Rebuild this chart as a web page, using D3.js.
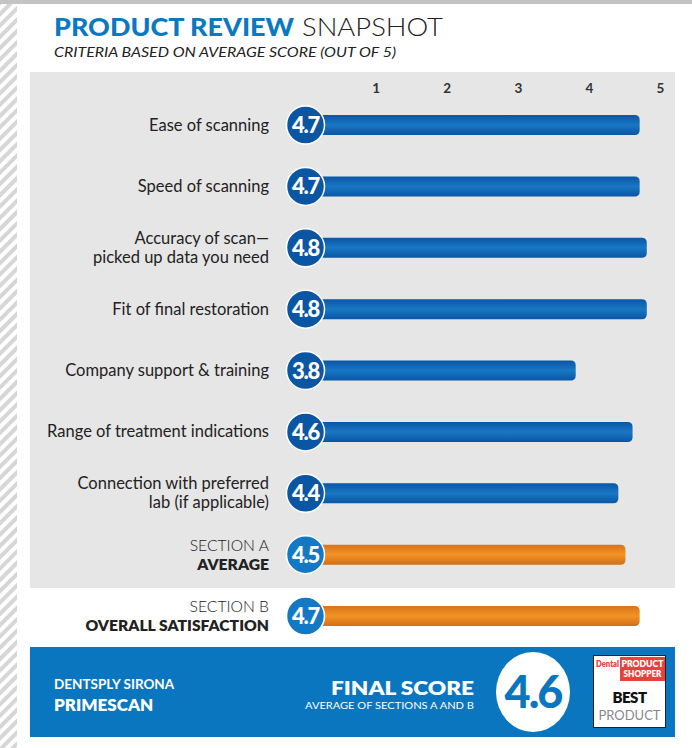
<!DOCTYPE html>
<html><head><meta charset="utf-8">
<script src="https://cdn.jsdelivr.net/npm/d3@7"></script>
<style>body{margin:0;background:#fff}svg{display:block}</style>
</head><body><div id="chart"></div>
<script>
const categories = [
  ["Ease of scanning"],
  ["Speed of scanning"],
  ["Accuracy of scan\u2014","picked up data you need"],
  ["Fit of final restoration"],
  ["Company support & training"],
  ["Range of treatment indications"],
  ["Connection with preferred","lab (if applicable)"]
];
const values = [4.7, 4.7, 4.8, 4.8, 3.8, 4.6, 4.4];
const sectionLabels = [["SECTION A","AVERAGE"],["SECTION B","OVERALL SATISFACTION"]];
const sectionValues = [4.5, 4.7];
const tickValues = [1,2,3,4,5];
const finalScore = 4.6;
const company = "DENTSPLY SIRONA";
const product = "PRIMESCAN";

const W = 692, H = 748;
const FONT = "Lato, 'Open Sans', sans-serif";
const svg = d3.select("#chart").append("svg").attr("width", W).attr("height", H);
const defs = svg.append("defs");

const pat = defs.append("pattern").attr("id","hatch").attr("patternUnits","userSpaceOnUse")
  .attr("width",8).attr("height",8).attr("patternTransform","rotate(45)");
pat.append("rect").attr("width",8).attr("height",8).attr("fill","#ffffff");
pat.append("rect").attr("width",4).attr("height",8).attr("fill","#d6d6d6");

const gBlue = defs.append("linearGradient").attr("id","gBlue").attr("x1",0).attr("x2",0).attr("y1",0).attr("y2",1);
gBlue.append("stop").attr("offset","0%").attr("stop-color","#0a56a4");
gBlue.append("stop").attr("offset","50%").attr("stop-color","#1877c4");
gBlue.append("stop").attr("offset","100%").attr("stop-color","#0a56a4");
const gOr = defs.append("linearGradient").attr("id","gOr").attr("x1",0).attr("x2",0).attr("y1",0).attr("y2",1);
gOr.append("stop").attr("offset","0%").attr("stop-color","#d8731a");
gOr.append("stop").attr("offset","50%").attr("stop-color","#f39325");
gOr.append("stop").attr("offset","100%").attr("stop-color","#d26e16");

svg.append("rect").attr("x",0).attr("y",0).attr("width",W).attr("height",4).attr("fill","#c4c4c4");
svg.append("rect").attr("x",0).attr("y",4).attr("width",17).attr("height",H-4).attr("fill","url(#hatch)");

svg.append("text").attr("x",54).attr("y",36).attr("font-family",FONT)
  .attr("font-weight",900).attr("font-size",25).attr("fill","#0a79c2")
  .attr("textLength",240).attr("lengthAdjust","spacingAndGlyphs").text("PRODUCT REVIEW");
svg.append("text").attr("x",302).attr("y",36).attr("font-family",FONT)
  .attr("font-weight",300).attr("font-size",25).attr("fill","#222")
  .attr("textLength",141).attr("lengthAdjust","spacingAndGlyphs").text("SNAPSHOT");
svg.append("text").attr("x",54).attr("y",57).attr("font-family",FONT)
  .attr("font-style","italic").attr("font-size",13).attr("fill","#222")
  .attr("textLength",342).attr("lengthAdjust","spacingAndGlyphs").text("CRITERIA BASED ON AVERAGE SCORE (OUT OF 5)");

svg.append("rect").attr("x",30).attr("y",72).attr("width",645).attr("height",516).attr("fill","#e6e6e6");

const x = d3.scaleLinear().domain([0,5]).range([305.5, 661]);
const allLabels = categories.concat(sectionLabels);
const allValues = values.concat(sectionValues);
const y = d3.scalePoint().domain(d3.range(allValues.length)).range([125, 616]);

const axis = d3.axisTop(x).tickValues(tickValues).tickSize(0).tickPadding(0).tickFormat(d3.format("d"));
const ag = svg.append("g").attr("transform","translate(-1,93)").call(axis);
ag.select(".domain").remove();
ag.selectAll("text").attr("font-family",FONT).attr("font-weight",700)
  .attr("font-size",13.5).attr("fill","#333");

const rows = svg.append("g").selectAll("g").data(allValues).join("g")
  .attr("transform",(d,i)=>`translate(0,${y(i)})`);

const barH = 20;
rows.append("path").attr("d", d => {
  const x0 = x(0), x1 = x(d), r = 5, h = barH/2;
  return `M${x0},${-h}H${x1-r}Q${x1},${-h} ${x1},${-h+r}V${h-r}Q${x1},${h} ${x1-r},${h}H${x0}Z`;
}).attr("fill",(d,i)=> i < values.length ? "url(#gBlue)" : "url(#gOr)");

rows.append("circle").attr("cx",x(0)).attr("cy",0).attr("r",19)
  .attr("fill",(d,i)=> i < values.length ? "#0b56a3" : "#1479c4")
  .attr("stroke","#ffffff").attr("stroke-width",1.5);
rows.append("text").attr("x",x(0)).attr("y",8).attr("text-anchor","middle")
  .attr("font-family",FONT).attr("font-weight",900).attr("font-size",22)
  .attr("fill","#fff").attr("letter-spacing",-1.2).text(d=>d.toFixed(1));

rows.each(function(d,i){
  const lines = allLabels[i];
  const g = d3.select(this);
  const isSec = i >= values.length;
  const lh = 19;
  const start = -(lines.length-1)*lh/2 + 5.5;
  lines.forEach((t,k)=>{
    g.append("text").attr("x",269).attr("y",start + k*lh).attr("text-anchor","end")
      .attr("font-family",FONT)
      .attr("font-size",isSec?15.7:16.5)
      .attr("font-weight", isSec ? (k===1?800:300) : 400)
      .attr("fill","#222").text(t);
  });
});

svg.append("rect").attr("x",30).attr("y",647).attr("width",645).attr("height",90).attr("fill","#0a76bf");
svg.append("text").attr("x",54).attr("y",689).attr("font-family",FONT)
  .attr("font-weight",700).attr("font-size",13.5).attr("fill","#fff").text(company);
svg.append("text").attr("x",54).attr("y",711).attr("font-family",FONT)
  .attr("font-weight",800).attr("font-size",17).attr("fill","#fff").text(product);
svg.append("text").attr("x",474).attr("y",695).attr("text-anchor","end").attr("font-family",FONT)
  .attr("font-weight",800).attr("font-size",19).attr("fill","#fff")
  .attr("textLength",143).attr("lengthAdjust","spacingAndGlyphs").text("FINAL SCORE");
svg.append("text").attr("x",474).attr("y",709).attr("text-anchor","end").attr("font-family",FONT)
  .attr("font-weight",400).attr("font-size",10).attr("fill","#fff")
  .attr("textLength",169).attr("lengthAdjust","spacingAndGlyphs").text("AVERAGE OF SECTIONS A AND B");
svg.append("ellipse").attr("cx",533).attr("cy",692).attr("rx",37).attr("ry",40).attr("fill","#fff");
svg.append("text").attr("x",533).attr("y",708).attr("text-anchor","middle").attr("font-family",FONT)
  .attr("font-weight",900).attr("font-size",45).attr("fill","#0a76bf").attr("letter-spacing",-2)
  .text(finalScore.toFixed(1));

const lg = svg.append("g");
lg.append("rect").attr("x",593.5).attr("y",655.5).attr("width",72).attr("height",72).attr("fill","#fff").attr("stroke","#222").attr("stroke-width",1);
lg.append("rect").attr("x",620).attr("y",657).attr("width",45).attr("height",24).attr("fill","#e8403a");
lg.append("text").attr("x",596).attr("y",667).attr("font-family",FONT).attr("font-weight",800)
  .attr("font-size",9).attr("fill","#e8403a").attr("textLength",23).attr("lengthAdjust","spacingAndGlyphs").text("Dental");
lg.append("text").attr("x",642.5).attr("y",667).attr("text-anchor","middle").attr("font-family",FONT).attr("font-weight",800)
  .attr("font-size",8.5).attr("fill","#fff").attr("textLength",42).attr("lengthAdjust","spacingAndGlyphs").text("PRODUCT");
lg.append("text").attr("x",642.5).attr("y",677).attr("text-anchor","middle").attr("font-family",FONT).attr("font-weight",800)
  .attr("font-size",8.5).attr("fill","#fff").attr("textLength",38).attr("lengthAdjust","spacingAndGlyphs").text("SHOPPER");
lg.append("text").attr("x",629.5).attr("y",703).attr("text-anchor","middle").attr("font-family",FONT).attr("font-weight",800)
  .attr("font-size",15).attr("fill","#111").attr("letter-spacing",-0.5).text("BEST");
lg.append("text").attr("x",629.5).attr("y",720).attr("text-anchor","middle").attr("font-family",FONT).attr("font-weight",400)
  .attr("font-size",14).attr("fill","#888").attr("textLength",62).attr("lengthAdjust","spacingAndGlyphs").text("PRODUCT");
</script></body></html>
